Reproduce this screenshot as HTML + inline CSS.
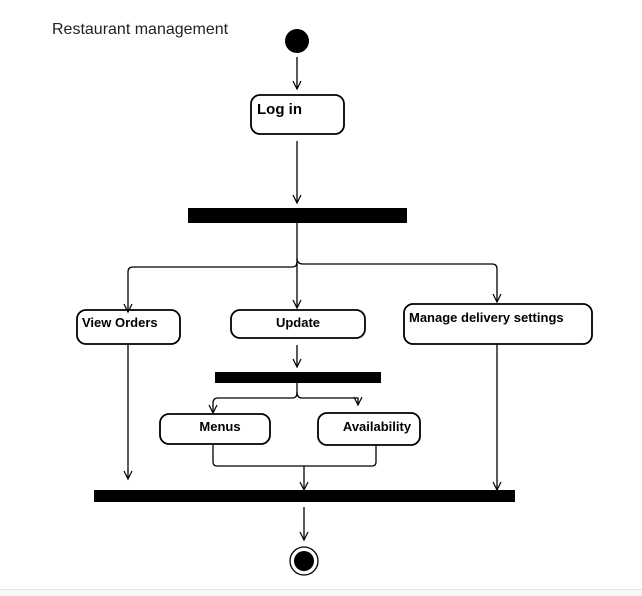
<!DOCTYPE html>
<html><head><meta charset="utf-8"><style>
html,body{margin:0;padding:0;background:#fff;width:642px;height:596px;overflow:hidden}
svg{display:block}
</style></head><body>
<svg width="642" height="596" viewBox="0 0 642 596" xmlns="http://www.w3.org/2000/svg">
<defs>
<marker id="a" markerWidth="12" markerHeight="12" refX="9" refY="5" orient="auto" markerUnits="userSpaceOnUse">
<path d="M1,1 L9,5 L1,9" fill="none" stroke="#000" stroke-width="1.2"/>
</marker>
</defs>
<text x="52" y="34" font-family="Liberation Sans, sans-serif" font-size="16" fill="#222">Restaurant management</text>
<circle cx="297" cy="41" r="12" fill="#000"/>
<g stroke="#000" stroke-width="1.3" fill="none">
<line x1="297" y1="57" x2="297" y2="89" marker-end="url(#a)"/>
<rect x="251" y="95" width="93" height="39" rx="9" stroke-width="1.8"/>
<line x1="297" y1="141" x2="297" y2="203" marker-end="url(#a)"/>
<path d="M297,223 V262 Q297,267 292,267 H133 Q128,267 128,272 V312" marker-end="url(#a)"/>
<line x1="297" y1="262" x2="297" y2="308" marker-end="url(#a)"/>
<path d="M297,258 Q297,264 303,264 H492 Q497,264 497,269 V302" marker-end="url(#a)"/>
<rect x="77" y="310" width="103" height="34" rx="9" stroke-width="1.8"/>
<rect x="231" y="310" width="134" height="28" rx="9" stroke-width="1.8"/>
<rect x="404" y="304" width="188" height="40" rx="9" stroke-width="1.8"/>
<line x1="297" y1="345" x2="297" y2="367" marker-end="url(#a)"/>
<path d="M297,383 V393 Q297,398 292,398 H218 Q213,398 213,403 V413" marker-end="url(#a)"/>
<path d="M297,392 Q297,398 302,398 H358 V405" marker-end="url(#a)"/>
<rect x="160" y="414" width="110" height="30" rx="9" stroke-width="1.8"/>
<rect x="318" y="413" width="102" height="32" rx="9" stroke-width="1.8"/>
<path d="M213,445 V462 Q213,466 217,466 H372 Q376,466 376,462 V445"/>
<line x1="304" y1="466" x2="304" y2="490" marker-end="url(#a)"/>
<line x1="128" y1="344" x2="128" y2="479" marker-end="url(#a)"/>
<line x1="497" y1="344" x2="497" y2="490" marker-end="url(#a)"/>
<line x1="304" y1="507" x2="304" y2="540" marker-end="url(#a)"/>
<circle cx="304" cy="561" r="14"/>
</g>
<rect x="188" y="208" width="219" height="15" fill="#000"/>
<rect x="215" y="372" width="166" height="11" fill="#000"/>
<rect x="94" y="490" width="421" height="12" fill="#000"/>
<circle cx="304" cy="561" r="10" fill="#000"/>
<g font-family="Liberation Sans, sans-serif" font-weight="bold" font-size="13" fill="#000">
<text x="257" y="114" font-size="15">Log in</text>
<text x="82" y="327">View Orders</text>
<text x="298" y="327" text-anchor="middle">Update</text>
<text x="409" y="322">Manage delivery settings</text>
<text x="220" y="431" text-anchor="middle">Menus</text>
<text x="377" y="431" text-anchor="middle">Availability</text>
</g>
<rect x="0" y="589" width="642" height="7" fill="#f5f7f9"/>
<line x1="0" y1="589.5" x2="642" y2="589.5" stroke="#e2e4e6"/>
</svg>
</body></html>
